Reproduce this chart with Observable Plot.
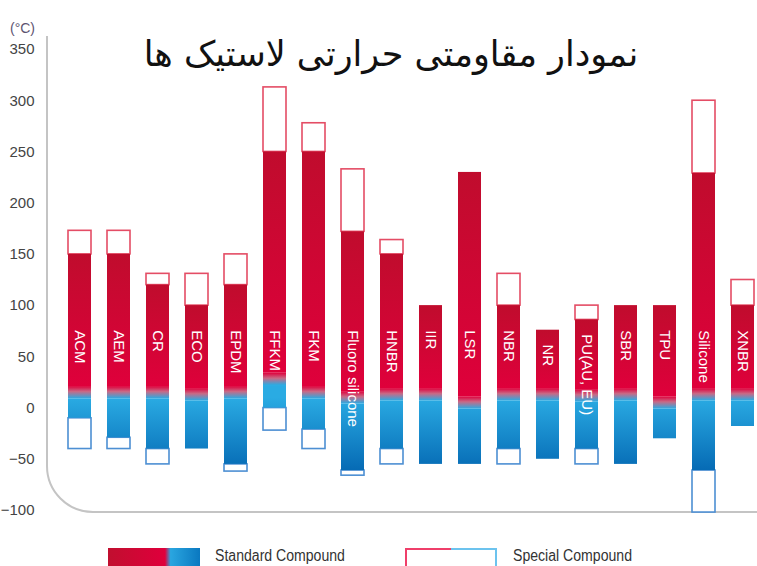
<!DOCTYPE html>
<html><head><meta charset="utf-8">
<script src="https://cdn.jsdelivr.net/npm/d3@7"></script>
<script src="https://cdn.jsdelivr.net/npm/@observablehq/plot@0.6"></script>
<style>
html,body{margin:0;padding:0;background:#fff;overflow:hidden;width:757px;height:566px;}
#wrap{position:relative;width:757px;height:566px;}
#title{position:absolute;left:60px;width:662px;top:34px;text-align:center;direction:rtl;font-family:"DejaVu Sans",sans-serif;font-size:35px;color:#111;white-space:nowrap;}
.lg-text{position:absolute;top:546px;font-family:"Liberation Sans Narrow","Liberation Sans",Arial,sans-serif;font-size:16px;color:#333;line-height:20px;transform:scaleX(0.88);transform-origin:left center;white-space:nowrap;}
#sw1{position:absolute;left:108px;top:548px;width:92px;height:30px;background:linear-gradient(to right,#c10f2f 0%,#dc003a 55%,#e0003c 62%,#2aa6e0 68%,#0a78c0 100%);}
#sw2{position:absolute;left:405px;top:548px;width:92px;height:30px;}
#sw2 .l{position:absolute;left:0;top:0;width:44px;height:28px;border-top:2px solid #ef3f6a;border-left:2px solid #ef3f6a;}
#sw2 .r{position:absolute;left:46px;top:0;width:44px;height:28px;border-top:2px solid #6cc3ee;border-right:2px solid #6cc3ee;}
g[aria-label="bar-label"] text{letter-spacing:2.5px;}
</style></head><body>
<div id="wrap">
<div id="chart"></div>
<div id="title">نمودار مقاومتی حرارتی لاستیک ها</div>
<div id="sw1"></div><div class="lg-text" style="left:215px">Standard Compound</div>
<div id="sw2"><div class="l"></div><div class="r"></div></div><div class="lg-text" style="left:513px">Special Compound</div>
</div>
<script>
const categories = ["ACM","AEM","CR","ECO","EPDM","FFKM","FKM","Fluoro silicone","HNBR","IIR","LSR","NBR","NR","PU(AU, EU)","SBR","TPU","Silicone","XNBR"];
const stdMax  = [150,150,120,100,120,250,250,172,150,100,230,100,76,86,100,100,229,100];
const stdMin  = [-10,-29,-40,-40,-55,0,-21,-61,-40,-55,-55,-40,-50,-40,-55,-30,-61,-18];
const specMax = [173,173,131,131,150,313,278,233,164,null,null,131,null,100,null,null,300,125];
const specMin = [-40,-40,-55,null,-62,-22,-40,-66,-55,null,null,-55,null,-55,null,null,-102,null];
const split   = [15,15,15,13,15,28,15,10,13,13,5,13,13,12,13,5,13,13];
const yTicks  = [-100,-50,0,50,100,150,200,250,300,350];
const unitLabel = "(°C)";

const rows = categories.map((name,i)=>({name, stdMax:stdMax[i], stdMin:stdMin[i], specMax:specMax[i], specMin:specMin[i], split:split[i]}));
const upper = rows.filter(d=>d.specMax!=null);
const lower = rows.filter(d=>d.specMin!=null);
const FONT = '"Liberation Sans", Arial, sans-serif';

function defsMark(index, scales, values, dim){
  const g = d3.create("svg:g");
  const defs = g.append("defs");
  const red = defs.append("linearGradient").attr("id","gRed").attr("x1",0).attr("y1",0).attr("x2",0).attr("y2",1);
  red.append("stop").attr("offset","0%").attr("stop-color","#c00c2d");
  red.append("stop").attr("offset","100%").attr("stop-color","#df003b");
  const blue = defs.append("linearGradient").attr("id","gBlue").attr("gradientUnits","userSpaceOnUse")
    .attr("x1",0).attr("x2",0).attr("y1",scales.y(10)).attr("y2",scales.y(-65));
  blue.append("stop").attr("offset","0%").attr("stop-color","#2aabe3");
  blue.append("stop").attr("offset","100%").attr("stop-color","#0467b2");
  const mix = defs.append("linearGradient").attr("id","gMix").attr("x1",0).attr("y1",0).attr("x2",0).attr("y2",1);
  mix.append("stop").attr("offset","0%").attr("stop-color","#df003b");
  mix.append("stop").attr("offset","45%").attr("stop-color","#c86a86");
  mix.append("stop").attr("offset","100%").attr("stop-color","#2aabe3");
  return g.node();
}

function frameMark(index, scales, values, dim){
  const x0 = dim.marginLeft - 19;
  const yb = scales.y(-100) + 2;
  const r = 46;
  const top = dim.marginTop - 13;
  return d3.create("svg:path")
    .attr("d", `M${x0},${top}V${yb-r}A${r},${r} 0 0 0 ${x0+r},${yb}H${dim.width}`)
    .attr("fill","none").attr("stroke","#c4c4c4").attr("stroke-width",2).node();
}

const chart = Plot.plot({
  width:757, height:530,
  marginTop:49, marginBottom:20, marginLeft:66, marginRight:0,
  style:{background:"transparent", overflow:"visible"},
  x:{domain:categories, paddingInner:0.41, paddingOuter:0.05, axis:null},
  y:{domain:[-100,350], axis:null},
  marks:[
    defsMark,
    frameMark,
    Plot.axisY(yTicks, {tickSize:0, tickPadding:32, fontSize:15, fontFamily:FONT, fill:"#444", label:null}),
    Plot.text([unitLabel], {frameAnchor:"top-left", dx:-44, dy:-26, textAnchor:"middle", fontSize:14, fontFamily:FONT, fill:"#5d5470"}),
    Plot.barY(upper, {x:"name", y1:"stdMax", y2:"specMax", fill:"white", stroke:"#e44d65", strokeWidth:1.6}),
    Plot.barY(lower, {x:"name", y1:"specMin", y2:"stdMin", fill:"white", stroke:"#4d8fd3", strokeWidth:1.6}),
    Plot.barY(rows, {x:"name", y1:d=>d.split+6, y2:"stdMax", fill:"url(#gRed)"}),
    Plot.barY(rows, {x:"name", y1:d=>d.split-6, y2:d=>d.split+6, fill:"url(#gMix)"}),
    Plot.barY(rows, {x:"name", y1:"stdMin", y2:d=>d.split-6, fill:"url(#gBlue)"}),
    Plot.text(rows, {x:"name", y:d=>Math.min(76, d.stdMax-14), text:"name", rotate:90, textAnchor:"start", lineAnchor:"middle", fill:"white", fontSize:15, fontFamily:FONT, ariaLabel:"bar-label"})
  ]
});
document.getElementById("chart").appendChild(chart);
</script>
</body></html>
